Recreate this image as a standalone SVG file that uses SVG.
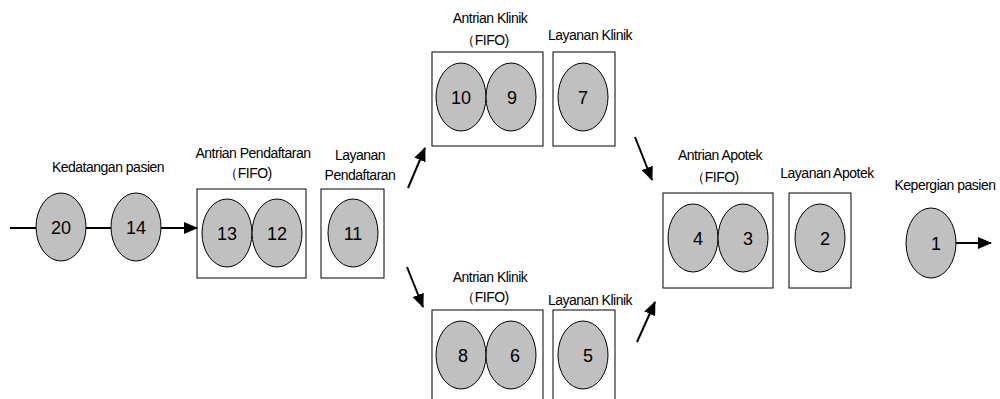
<svg xmlns="http://www.w3.org/2000/svg" width="1000" height="399" viewBox="0 0 1000 399">
<defs>
<style>
.lbl{font-family:"Liberation Sans",Arial,sans-serif;font-size:14px;letter-spacing:-0.5px;fill:#000;text-anchor:middle}
.num{font-family:"Liberation Sans",Arial,sans-serif;font-size:18px;fill:#000;text-anchor:middle}
.el{fill:#c0c0c0;stroke:#000;stroke-width:1}
.box{fill:none;stroke:#000;stroke-width:1}
.ln{stroke:#000;stroke-width:2;fill:none}
.ar{stroke:#000;stroke-width:2;fill:none;marker-end:url(#ah)}
</style>
<marker id="ah" markerUnits="userSpaceOnUse" markerWidth="14" markerHeight="12" refX="13" refY="6" orient="auto">
<path d="M0,0 L14,6 L0,12 Z" fill="#000"/>
</marker>
</defs>
<rect width="1000" height="399" fill="#fff"/>

<g id="connectors">
<line class="ln" x1="10" y1="228" x2="36" y2="228"/>
<line class="ln" x1="86" y1="228" x2="111" y2="228"/>
<line class="ar" x1="161" y1="228" x2="197" y2="228"/>
<line class="ar" x1="408" y1="188" x2="425" y2="148"/>
<line class="ar" x1="407" y1="267" x2="423" y2="307"/>
<line class="ar" x1="635" y1="137" x2="652" y2="180"/>
<line class="ar" x1="637" y1="342" x2="655" y2="302"/>
<line class="ar" x1="955" y1="243" x2="991" y2="243"/>
</g>

<g id="arrival">
<text class="lbl" x="108" y="172">Kedatangan pasien</text>
<ellipse class="el" cx="61" cy="227" rx="25" ry="34"/>
<text class="num" x="61" y="234">20</text>
<ellipse class="el" cx="136" cy="227" rx="25" ry="34"/>
<text class="num" x="136" y="234">14</text>
</g>

<g id="reg-queue">
<text class="lbl" x="253" y="158">Antrian Pendaftaran</text>
<text class="lbl" x="248" y="178">（FIFO)</text>
<rect class="box" x="197" y="189" width="109" height="89"/>
<ellipse class="el" cx="227" cy="233" rx="25" ry="34"/>
<text class="num" x="227" y="240">13</text>
<ellipse class="el" cx="277" cy="233" rx="25" ry="34"/>
<text class="num" x="277" y="240">12</text>
</g>

<g id="reg-service">
<text class="lbl" x="360" y="160">Layanan</text>
<text class="lbl" x="360" y="180">Pendaftaran</text>
<rect class="box" x="321" y="189" width="63" height="89"/>
<ellipse class="el" cx="353" cy="233" rx="25" ry="34"/>
<text class="num" x="353" y="240">11</text>
</g>

<g id="clinic-queue-top">
<text class="lbl" x="490" y="23">Antrian Klinik</text>
<text class="lbl" x="485" y="45">（FIFO)</text>
<rect class="box" x="432" y="52" width="111" height="94"/>
<ellipse class="el" cx="461" cy="97" rx="25" ry="34"/>
<text class="num" x="461" y="104">10</text>
<ellipse class="el" cx="511" cy="97" rx="25" ry="34"/>
<text class="num" x="512" y="104">9</text>
</g>

<g id="clinic-service-top">
<text class="lbl" x="590" y="40">Layanan Klinik</text>
<rect class="box" x="553" y="52" width="62" height="94"/>
<ellipse class="el" cx="583" cy="97" rx="25" ry="34"/>
<text class="num" x="583" y="104">7</text>
</g>

<g id="clinic-queue-bottom">
<text class="lbl" x="490" y="282">Antrian Klinik</text>
<text class="lbl" x="485" y="302">（FIFO)</text>
<rect class="box" x="432" y="310" width="111" height="94"/>
<ellipse class="el" cx="461" cy="355" rx="25" ry="34"/>
<text class="num" x="463" y="362">8</text>
<ellipse class="el" cx="511" cy="355" rx="25" ry="34"/>
<text class="num" x="515" y="362">6</text>
</g>

<g id="clinic-service-bottom">
<text class="lbl" x="590" y="305">Layanan Klinik</text>
<rect class="box" x="553" y="310" width="62" height="94"/>
<ellipse class="el" cx="583" cy="355" rx="25" ry="34"/>
<text class="num" x="588" y="362">5</text>
</g>

<g id="pharmacy-queue">
<text class="lbl" x="720" y="160">Antrian Apotek</text>
<text class="lbl" x="715" y="182">（FIFO)</text>
<rect class="box" x="663" y="193" width="110" height="95"/>
<ellipse class="el" cx="693" cy="238" rx="25" ry="34"/>
<text class="num" x="698" y="245">4</text>
<ellipse class="el" cx="743" cy="238" rx="25" ry="34"/>
<text class="num" x="748" y="245">3</text>
</g>

<g id="pharmacy-service">
<text class="lbl" x="827" y="178">Layanan Apotek</text>
<rect class="box" x="789" y="193" width="62" height="95"/>
<ellipse class="el" cx="820" cy="238" rx="25" ry="34"/>
<text class="num" x="825" y="245">2</text>
</g>

<g id="departure">
<text class="lbl" x="945" y="190">Kepergian pasien</text>
<ellipse class="el" cx="931" cy="243" rx="25" ry="35"/>
<text class="num" x="936" y="250">1</text>
</g>
</svg>
